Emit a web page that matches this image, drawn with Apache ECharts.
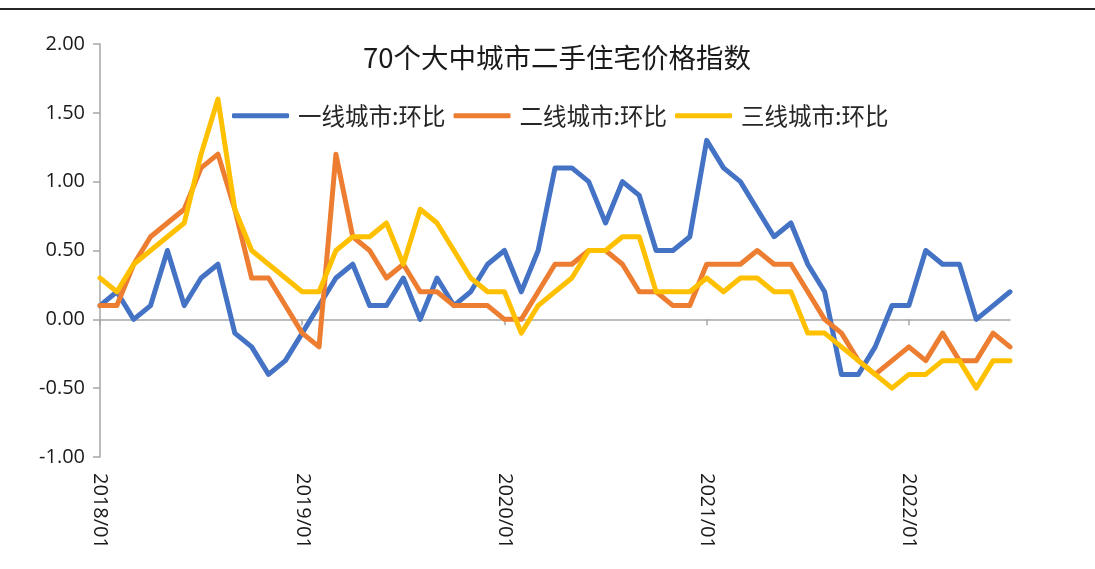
<!DOCTYPE html>
<html>
<head>
<meta charset="utf-8">
<script src="https://cdn.jsdelivr.net/npm/echarts@6/dist/echarts.min.js"></script>
<style>
  html, body { margin: 0; padding: 0; background: #fff; }
  #chart { width: 1095px; height: 569px; }
</style>
</head>
<body>
<div id="chart"></div>
<script>
// months 2018/01 .. 2022/07
var months = [];
for (var y = 2018; y <= 2022; y++) {
  for (var m = 1; m <= 12; m++) {
    if (y === 2022 && m > 7) break;
    months.push(y + '/' + (m < 10 ? '0' + m : m));
  }
}

var tier1 = [0.1, 0.2, 0.0, 0.1, 0.5, 0.1, 0.3, 0.4, -0.1, -0.2, -0.4, -0.3,
  -0.1, 0.1, 0.3, 0.4, 0.1, 0.1, 0.3, 0.0, 0.3, 0.1, 0.2, 0.4,
  0.5, 0.2, 0.5, 1.1, 1.1, 1.0, 0.7, 1.0, 0.9, 0.5, 0.5, 0.6,
  1.3, 1.1, 1.0, 0.8, 0.6, 0.7, 0.4, 0.2, -0.4, -0.4, -0.2, 0.1,
  0.1, 0.5, 0.4, 0.4, 0.0, 0.1, 0.2];
var tier2 = [0.1, 0.1, 0.4, 0.6, 0.7, 0.8, 1.1, 1.2, 0.8, 0.3, 0.3, 0.1,
  -0.1, -0.2, 1.2, 0.6, 0.5, 0.3, 0.4, 0.2, 0.2, 0.1, 0.1, 0.1,
  0.0, 0.0, 0.2, 0.4, 0.4, 0.5, 0.5, 0.4, 0.2, 0.2, 0.1, 0.1,
  0.4, 0.4, 0.4, 0.5, 0.4, 0.4, 0.2, 0.0, -0.1, -0.3, -0.4, -0.3,
  -0.2, -0.3, -0.1, -0.3, -0.3, -0.1, -0.2];
var tier3 = [0.3, 0.2, 0.4, 0.5, 0.6, 0.7, 1.2, 1.6, 0.8, 0.5, 0.4, 0.3,
  0.2, 0.2, 0.5, 0.6, 0.6, 0.7, 0.4, 0.8, 0.7, 0.5, 0.3, 0.2,
  0.2, -0.1, 0.1, 0.2, 0.3, 0.5, 0.5, 0.6, 0.6, 0.2, 0.2, 0.2,
  0.3, 0.2, 0.3, 0.3, 0.2, 0.2, -0.1, -0.1, -0.2, -0.3, -0.4, -0.5,
  -0.4, -0.4, -0.3, -0.3, -0.5, -0.3, -0.3];

var seriesNames = ['一线城市:环比', '二线城市:环比', '三线城市:环比'];
var colors = ['#4472C4', '#ED7D31', '#FFC000'];
var axisColor = '#a6a6a6';

var chart = echarts.init(document.getElementById('chart'));

function lineSeries(name, data, color) {
  return {
    name: name,
    type: 'line',
    data: data,
    xAxisIndex: 0,
    symbol: 'none',
    color: color,
    lineStyle: { width: 5, color: color, cap: 'round', join: 'round' },
    animation: false
  };
}

chart.setOption({
  animation: false,
  color: colors,
  title: {
    text: '70个大中城市二手住宅价格指数',
    left: 358,
    top: 39,
    textStyle: {
      fontFamily: '"Noto Sans CJK SC", sans-serif',
      fontSize: 27.5,
      fontWeight: 'normal',
      color: '#1a1a1a'
    }
  },
  legend: {
    data: seriesNames,
    left: 232,
    top: 104,
    padding: 0,
    icon: 'roundRect',
    itemWidth: 57,
    itemHeight: 5,
    itemGap: 8,
    textStyle: {
      fontFamily: '"Noto Sans CJK SC", sans-serif',
      fontSize: 23.5,
      color: '#262626',
      padding: [0, 0, 0, 4]
    }
  },
  grid: { left: 100, right: 85, top: 44, bottom: 112, outerBoundsMode: 'none', containLabel: false },
  xAxis: [{
    // zero line with yearly ticks
    type: 'category',
    data: months,
    position: 'top',
    boundaryGap: false,
    axisLine: { onZero: true, lineStyle: { color: axisColor, width: 1.5 } },
    axisTick: { interval: 11, inside: true, length: 6, lineStyle: { color: axisColor, width: 1.5 } },
    axisLabel: { show: false },
    splitLine: { show: false }
  }, {
    // bottom labels
    type: 'category',
    data: months,
    position: 'bottom',
    boundaryGap: false,
    axisLine: { show: false, onZero: false },
    axisTick: { show: false },
    axisLabel: {
      interval: 11,
      rotate: -90,
      margin: 16,
      fontFamily: '"Open Sans", sans-serif',
      fontSize: 20,
      color: '#1a1a1a'
    },
    splitLine: { show: false }
  }],
  yAxis: {
    type: 'value',
    min: -1,
    max: 2,
    interval: 0.5,
    axisLine: { show: true, lineStyle: { color: axisColor, width: 1.5 } },
    axisTick: { show: true, length: 7, lineStyle: { color: axisColor, width: 1.5 } },
    axisLabel: {
      margin: 15,
      formatter: function (v) { return v.toFixed(2); },
      fontFamily: '"Open Sans", sans-serif',
      fontSize: 20,
      color: '#1a1a1a'
    },
    splitLine: { show: false }
  },
  series: [
    lineSeries(seriesNames[0], tier1, colors[0]),
    lineSeries(seriesNames[1], tier2, colors[1]),
    lineSeries(seriesNames[2], tier3, colors[2])
  ],
  graphic: [{
    type: 'line',
    shape: { x1: 0, y1: 9, x2: 1095, y2: 9 },
    style: { stroke: '#262626', lineWidth: 2 }
  }]
});
</script>
</body>
</html>
